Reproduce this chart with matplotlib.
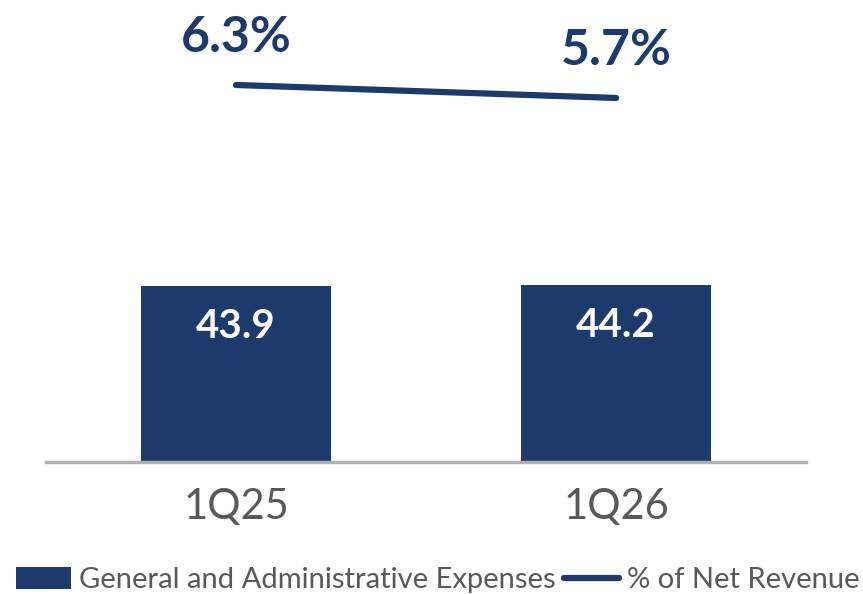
import matplotlib.pyplot as plt

# data
quarters = ["1Q25", "1Q26"]
ga_expenses = [43.9, 44.2]
pct_net_revenue = [6.3, 5.7]

navy = "#1c3a6b"
grey_text = "#595959"

plt.rcParams['font.family'] = ['Lato', 'DejaVu Sans']

fig = plt.figure(figsize=(8.63, 5.94), dpi=100)
ax = fig.add_axes([46 / 863, 132 / 594, 760 / 863, 452 / 594])

x = range(len(quarters))
bars = ax.bar(x, ga_expenses, width=0.5, color=navy,
              label="General and Administrative Expenses")
ax.set_xlim(-0.5, 1.5)
ax.set_ylim(0, 113)

for b, v in zip(bars, ga_expenses):
    ax.text(b.get_x() + b.get_width() / 2, v - 10, f"{v:.1f}",
            ha="center", va="center", color="white", fontsize=29,
            fontweight="bold")

ax.set_xticks(list(x))
ax.set_xticklabels(quarters, fontsize=30, color=grey_text)
ax.tick_params(axis="x", length=0, pad=19)
ax.set_yticks([])
for s in ["top", "right", "left"]:
    ax.spines[s].set_visible(False)
ax.spines["bottom"].set_color("#b0b0b0")
ax.spines["bottom"].set_linewidth(2.5)

# percentage line on a second axis
ax2 = ax.twinx()
ax2.set_ylim(-11.1, 9.76)
line, = ax2.plot(list(x), pct_net_revenue, color=navy, linewidth=4.5,
                 solid_capstyle="round", label="% of Net Revenue")
for i, v in zip(x, pct_net_revenue):
    ax2.annotate(f"{v:.1f}%", (i, v), xytext=(0, 47), textcoords="offset pixels",
                 ha="center", va="center", color=navy, fontsize=36,
                 fontweight="bold")
ax2.set_yticks([])
for s in ["top", "right", "left", "bottom"]:
    ax2.spines[s].set_visible(False)

fig.legend(handles=[bars, line], loc="lower center", bbox_to_anchor=(0.507, -0.043),
           ncol=2, frameon=False, fontsize=21, labelcolor=grey_text,
           handlelength=1.9, handleheight=0.8, handletextpad=0.25,
           columnspacing=0.3)

fig.savefig("out.png", dpi=100)
